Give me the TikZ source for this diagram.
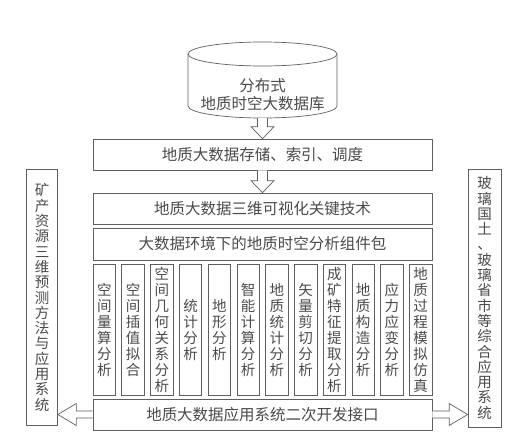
\documentclass[tikz,border=0pt]{standalone}
\usepackage{fontspec}
\newfontfamily\cjk{Noto Sans CJK SC}
\usetikzlibrary{positioning, calc}
\definecolor{cLine}{RGB}{95,95,95}
\definecolor{cText}{RGB}{75,75,75}
\tikzset{
	band/.style  ={rectangle, draw=cLine, line width=0.7pt, minimum width=339pt, minimum height=31pt, inner sep=0pt, text=cText, font=\cjk\fontsize{15.5}{18}\selectfont},
	sub/.style   ={rectangle, draw=cLine, line width=0.7pt, minimum width=22.5pt, minimum height=131pt, inner sep=0pt, align=center, text=cText, font=\cjk\fontsize{14.5}{16}\selectfont},
	side/.style  ={rectangle, draw=cLine, line width=0.7pt, minimum width=31pt, minimum height=256pt, inner sep=0pt, align=center, text=cText, font=\cjk\fontsize{14.5}{15.3}\selectfont},
	dbtext/.style={align=center, inner sep=0pt, text=cText, font=\cjk\fontsize{15.5}{17.5}\selectfont},
	hollow/.style={draw=cLine, fill=white, line width=0.7pt},
}
% hollow block arrows between named nodes
\newcommand{\blkdown}[2]{%
	\draw[hollow] let \p1=(#1), \p2=(#2) in
		(\x1-5pt,\y1) -- (\x1-5pt,\y2+12pt) -- (\x1-11.5pt,\y2+12pt) -- (\x1,\y2)
		-- (\x1+11.5pt,\y2+12pt) -- (\x1+5pt,\y2+12pt) -- (\x1+5pt,\y1);}
\newcommand{\blkside}[3]{%
	\draw[hollow] let \p1=(#1), \p2=(#2) in
		(\x1,\y1+3.5pt) -- ({\x2+(#3)*18.5pt},\y1+3.5pt) -- ({\x2+(#3)*18.5pt},\y1+11pt) -- (\x2,\y1)
		-- ({\x2+(#3)*18.5pt},\y1-11pt) -- ({\x2+(#3)*18.5pt},\y1-3.5pt) -- (\x1,\y1-3.5pt);}

\begin{document}
\begin{tikzpicture}[x=1pt, y=-1pt]
	\useasboundingbox[fill=white] (0,0) rectangle (507,439);
	% database cylinder
	\draw[draw=cLine, line width=0.7pt] (188,54) -- (188,106) arc[start angle=180, end angle=0, x radius=74.5, y radius=12] -- (337,54);
	\draw[draw=cLine, line width=0.7pt] (262.5,54) ellipse[x radius=74.5, y radius=12];
	\node[dbtext] (db) at (262.5,94.5) {分布式\\地质时空大数据库};
	\coordinate (dbbot) at (262.5,118);
	% layers
	\node[band] (store) at (262.5,154.5) {地质大数据存储、索引、调度};
	\node[band] (vis)   at (262.5,208.5) {地质大数据三维可视化关键技术};
	\node[band, minimum height=32pt] (pkg) at (262.5,244) {大数据环境下的地质时空分析组件包};
	\foreach \t [count=\i] in {{空\\间\\量\\算\\分\\析}, {空\\间\\插\\值\\拟\\合}, {空\\间\\几\\何\\关\\系\\分\\析}, {统\\计\\分\\析},
		{地\\形\\分\\析}, {智\\能\\计\\算\\分\\析}, {地\\质\\统\\计\\分\\析}, {矢\\量\\剪\\切\\分\\析},
		{成\\矿\\特\\征\\提\\取\\分\\析}, {地\\质\\构\\造\\分\\析}, {应\\力\\应\\变\\分\\析}, {地\\质\\过\\程\\模\\拟\\仿\\真}} {
		\node[sub] (s\i) at ({104.25+28.77*(\i-1)},329.5) {\t};
	}
	\node[band] (api) at (262.5,414.5) {地质大数据应用系统二次开发接口};
	% side systems
	\node[side] (left)  at (42,297.5) {矿\\产\\资\\源\\三\\维\\预\\测\\方\\法\\与\\应\\用\\系\\统};
	\node[side, minimum width=33pt, minimum height=258pt] (right) at (484.5,298) {玻\\璃\\国\\土\\、\\玻\\璃\\省\\市\\等\\综\\合\\应\\用\\系\\统};
	% arrows
	\blkdown{dbbot}{store.north}
	\blkdown{store.south}{vis.north}
	\blkside{api.west}{left.east}{1}
	\blkside{api.east}{right.west}{-1}
\end{tikzpicture}
\end{document}
